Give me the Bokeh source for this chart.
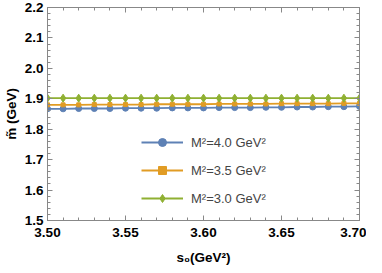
from bokeh.plotting import figure
from bokeh.models import (LinearAxis, SingleIntervalTicker, NumeralTickFormatter,
                          Legend, LegendItem, Range1d)
from bokeh.embed import file_html
from bokeh.resources import INLINE

s0 = [3.50, 3.51, 3.52, 3.53, 3.54, 3.55, 3.56, 3.57, 3.58, 3.59, 3.60,
      3.61, 3.62, 3.63, 3.64, 3.65, 3.66, 3.67, 3.68, 3.69, 3.70]
m_M4 = [1.867, 1.867, 1.868, 1.868, 1.868, 1.869, 1.869, 1.869, 1.870, 1.870, 1.870,
        1.871, 1.871, 1.871, 1.872, 1.872, 1.873, 1.873, 1.874, 1.874, 1.875]
m_M35 = [1.880, 1.880, 1.880, 1.881, 1.881, 1.881, 1.881, 1.882, 1.882, 1.882, 1.882,
         1.883, 1.883, 1.883, 1.883, 1.884, 1.884, 1.884, 1.884, 1.885, 1.885]
m_M3 = [1.902, 1.902, 1.902, 1.902, 1.902, 1.902, 1.902, 1.902, 1.902, 1.902, 1.902,
        1.902, 1.902, 1.902, 1.902, 1.902, 1.902, 1.902, 1.902, 1.902, 1.902]
labels = ["M\u00b2=4.0 GeV\u00b2", "M\u00b2=3.5 GeV\u00b2", "M\u00b2=3.0 GeV\u00b2"]

BLUE = "#5E81B5"
ORANGE = "#E19C24"
GREEN = "#8FB032"
FRAME = "#888888"
FONT = "Liberation Sans"

p = figure(width=366, height=272, output_backend="svg", toolbar_location=None,
           x_range=Range1d(3.50, 3.70), y_range=Range1d(1.5, 2.2),
           x_axis_location=None, y_axis_location=None,
           min_border_top=7, min_border_right=7, min_border_left=41, min_border_bottom=52)
p.grid.visible = False
p.outline_line_color = FRAME
p.background_fill_color = "white"
p.border_fill_color = "white"


def make_axis(ticker_interval, fmt, show_labels, label=None, lab_standoff=3, standoff=8):
    ax = LinearAxis(ticker=SingleIntervalTicker(interval=ticker_interval, num_minor_ticks=5),
                    formatter=NumeralTickFormatter(format=fmt))
    ax.axis_line_color = FRAME
    ax.major_tick_line_color = FRAME
    ax.minor_tick_line_color = FRAME
    ax.major_tick_in = 5
    ax.major_tick_out = 0
    ax.minor_tick_in = 3
    ax.minor_tick_out = 0
    ax.major_label_text_font = FONT
    ax.major_label_text_font_style = "bold"
    ax.major_label_text_font_size = "13.5px"
    ax.major_label_text_color = "black"
    ax.major_label_standoff = lab_standoff
    if not show_labels:
        ax.major_label_text_font_size = "0px"
        ax.major_label_text_alpha = 0
    if label:
        ax.axis_label = label
        ax.axis_label_text_font = FONT
        ax.axis_label_text_font_style = "bold"
        ax.axis_label_text_font_size = "13.5px"
        ax.axis_label_text_color = "black"
        ax.axis_label_standoff = standoff
    return ax


p.add_layout(make_axis(0.05, "0.00", True, "s\u2080(GeV\u00b2)", 7, 10), "below")
p.add_layout(make_axis(0.1, "0.0", True, "m\u0303 (GeV)", 4, 3), "left")
p.add_layout(make_axis(0.05, "0.00", False), "above")
p.add_layout(make_axis(0.1, "0.0", False), "right")

l1 = p.line(s0, m_M4, line_color=BLUE, line_width=1.8)
c1 = p.scatter(s0, m_M4, marker="circle", size=6, fill_color=BLUE, line_color=BLUE)
l2 = p.line(s0, m_M35, line_color=ORANGE, line_width=1.8)
c2 = p.scatter(s0, m_M35, marker="square", size=4, fill_color=ORANGE, line_color=ORANGE)
l3 = p.line(s0, m_M3, line_color=GREEN, line_width=1.8)
c3 = p.scatter(s0, m_M3, marker="diamond", size=8, fill_color=GREEN, line_color=GREEN)

legend = Legend(items=[LegendItem(label=labels[0], renderers=[l1, c1]),
                       LegendItem(label=labels[1], renderers=[l2, c2]),
                       LegendItem(label=labels[2], renderers=[l3, c3])],
                location=(94, 12), glyph_width=42, glyph_height=20, spacing=8,
                padding=0, margin=0, label_standoff=8,
                label_text_font=FONT, label_text_font_size="13px",
                border_line_alpha=0, background_fill_alpha=0)
p.add_layout(legend, "center")

open("out.html", "w").write(file_html(p, INLINE))
